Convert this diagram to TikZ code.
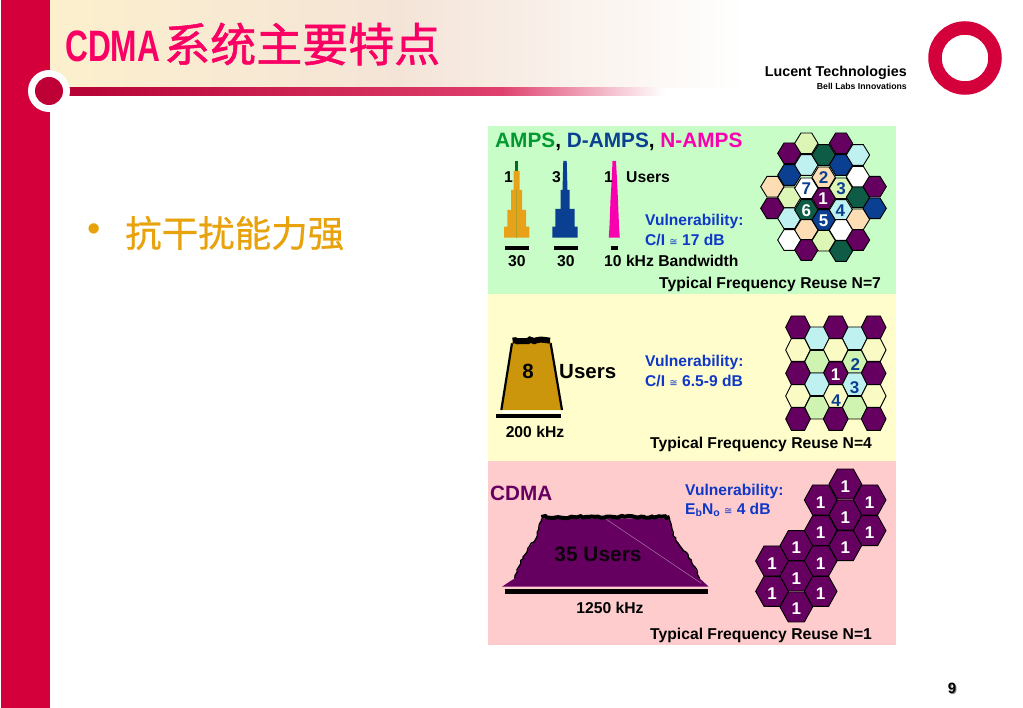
\documentclass[tikz,border=0pt]{standalone}
\usepackage{fontspec}
\setmainfont{Liberation Sans}
\newfontfamily\cjkbody[FakeBold=0.6]{Noto Sans CJK SC}
\newfontfamily\cjktitle[FakeBold=1.2]{Noto Sans CJK SC}
\newfontfamily\narrowsans[FakeStretch=0.72]{Liberation Sans}
\newfontfamily\symfont{DejaVu Sans}
\usetikzlibrary{decorations.pathmorphing}
\definecolor{slidered}{HTML}{D4003C}
\definecolor{titlepink}{HTML}{FA0064}
\definecolor{bulletgold}{HTML}{E8A20C}
\definecolor{pgreen}{HTML}{C8FDC8}
\definecolor{pyellow}{HTML}{FEFDCB}
\definecolor{ppink}{HTML}{FECCCC}
\definecolor{hpurple}{HTML}{660060}
\definecolor{hblue}{HTML}{0B3F92}
\definecolor{hgreen}{HTML}{0E5C46}
\definecolor{hcyan}{HTML}{BFF1F1}
\definecolor{hpeach}{HTML}{FCDDB4}
\definecolor{hlime}{HTML}{DDF6B6}
\definecolor{hcream}{HTML}{FAFBC4}
\definecolor{hlime2}{HTML}{CFF3B0}
\definecolor{vulblue}{HTML}{0F38C8}
\definecolor{gold}{HTML}{CB950C}
\definecolor{amber}{HTML}{E8A21A}
\definecolor{npink}{HTML}{F800B0}
\definecolor{agreen}{HTML}{009A30}
\definecolor{washa}{HTML}{FCF0CC}
\definecolor{washb}{HTML}{F4E4D8}
\tikzset{
  lbl/.style={font=\fontsize{15.7}{15.7}\selectfont\bfseries,inner sep=0pt,anchor=west},
  vul/.style={font=\fontsize{15.6}{15.6}\selectfont\bfseries,inner sep=0pt,anchor=west,text=vulblue},
  num/.style={font=\fontsize{17}{17}\selectfont\bfseries,inner sep=0pt},
  hexline/.style={draw=black,line width=0.9pt},
  bar/.style={fill=black,draw=none},
  zoomA/.style={shift={(488,125)},x=0.33333pt,y=-0.33333pt},
  zoomB/.style={shift={(488,295)},x=0.33333pt,y=-0.33333pt},
  zoomC/.style={shift={(488,460)},x=0.33333pt,y=-0.33333pt},
  jag/.style={decorate,decoration={random steps,segment length=3pt,amplitude=1.1pt}}
}
% centre x, centre y, fill, half width, half height, half flat
\newcommand{\hexat}[6]{\draw[hexline,fill=#3] ({#1-#4},#2) -- ({#1-#6},{#2-#5}) -- ({#1+#6},{#2-#5}) -- ({#1+#4},#2) -- ({#1+#6},{#2+#5}) -- ({#1-#6},{#2+#5}) -- cycle;}
\newcommand{\approxsym}{{\symfont\mdseries\fontsize{10}{10}\selectfont ≅}}
\begin{document}
\begin{tikzpicture}[x=1pt,y=-1pt]
\useasboundingbox (0,0) rectangle (1023,708);
\fill[white] (0,0) rectangle (1023,708);
% header wash
\shade[left color=washa,right color=washb] (50,0) rectangle (400,88);
\shade[left color=washb,right color=white] (400,0) rectangle (745,88);
% side band
\fill[slidered] (1,0) rectangle (50,708);
% rule and ball
\shade[left color=slidered!85!black,right color=slidered!75!white] (55,88) rectangle (500,96);
\shade[left color=slidered!75!white,right color=white] (500,88) rectangle (665,96);
\fill[white] (49,91) circle (21);
\fill[slidered!90!black] (49,91) circle (14);
% title
\node[anchor=west,inner sep=0pt,text=titlepink] (title) at (65,44) {\fontsize{44}{44}\selectfont\narrowsans\bfseries CDMA\hspace{4pt}\cjktitle\mdseries\fontsize{46}{46}\selectfont 系统主要特点};
% bullet
\node[inner sep=0pt,text=bulletgold] (bullet) at (94,233) {\fontsize{38}{38}\selectfont •};
\node[anchor=west,inner sep=0pt,text=bulletgold] (item) at (125,233) {\cjkbody\fontsize{36.5}{36.5}\selectfont 抗干扰能力强};
% logo
\draw[slidered,line width=13.5pt] (965,58) circle (30);
\node[anchor=east,inner sep=0pt] (lucent) at (907,73) {\fontsize{14.3}{14.3}\selectfont\bfseries Lucent Technologies};
\node[anchor=east,inner sep=0pt] (belllabs) at (907,86) {\fontsize{8.7}{8.7}\selectfont\bfseries Bell Labs Innovations};
% panels
\fill[pgreen] (488,126) rectangle (896,294);
\fill[pyellow] (488,294) rectangle (896,461);
\fill[ppink] (488,461) rectangle (896,645);
% ---------- panel A
\node[anchor=west,inner sep=0pt] (atitle) at (495,142) {\fontsize{20.8}{20.8}\selectfont\bfseries\textcolor{agreen}{AMPS}, \textcolor{hblue}{D-AMPS}, \textcolor{npink}{N-AMPS}};
\fill[agreen!70!black] (515.2,161) rectangle (518.2,172);
\fill[amber] (504,237.7) -- (504,226.7) -- (507.4,226.7) -- (507.4,210) -- (511.2,210) -- (511.2,190) -- (513.7,190) -- (513.7,171) -- (519.7,171) -- (519.7,190) -- (522.2,190) -- (522.2,210) -- (526,210) -- (526,226.7) -- (529.4,226.7) -- (529.4,237.7) -- cycle;
\fill[amber!75!agreen] (516,190) rectangle (517.4,237.7);
\fill[hblue] (552.3,237.7) -- (552.3,226.7) -- (555.3,226.7) -- (555.3,209) -- (560.5,209) -- (560.5,190) -- (562.5,190) -- (563.3,161) -- (566.7,161) -- (567.5,190) -- (569.5,190) -- (569.5,209) -- (574.7,209) -- (574.7,226.7) -- (577.7,226.7) -- (577.7,237.7) -- cycle;
\fill[npink] (608.8,237.7) -- (609.5,226) -- (610.5,200) -- (611.7,180) -- (612.5,161) -- (616,161) -- (617,180) -- (618,200) -- (619,226) -- (619.8,237.7) -- cycle;
\begin{scope}[zoomA]
\fill[bar] (50,362) rectangle (123,376);
\fill[bar] (197,362) rectangle (270,376);
\fill[bar] (368,362) rectangle (390,376);
\foreach \cx/\cy/\cc in {853/185/hpeach,853/250/hpurple,
 904/85/hpurple,904/150/hblue,904/217/hlime,904/280/hcyan,904/345/white,
 955/55/hlime,955/120/hcyan,955/190/white,955/255/hgreen,955/315/hpeach,955/375/hpurple,
 1007/90/hgreen,1007/157/hpeach,1007/220/hpurple,1007/285/hblue,1007/347/hlime,
 1059/55/hpurple,1059/120/hblue,1059/190/hlime,1059/255/hcyan,1059/315/white,1059/378/hgreen,
 1110/90/hcyan,1110/155/white,1110/217/hgreen,1110/283/hpeach,1110/345/hpurple,
 1160/185/hpurple,1160/250/hblue}{\hexat{\cx}{\cy}{\cc}{35}{31}{16}}
\node[num,text=white] (a1) at (1005,222) {1};
\node[num,text=hblue] (a2) at (1007,158) {2};
\node[num,text=hblue] (a3) at (1059,191) {3};
\node[num,text=hblue] (a4) at (1057,256) {4};
\node[num,text=white] (a5) at (1007,286) {5};
\node[num,text=white] (a6) at (955,256) {6};
\node[num,text=hblue] (a7) at (955,191) {7};
\end{scope}
\node[lbl] (au1) at (504,177) {1};
\node[lbl] (au2) at (552,177) {3};
\node[lbl] (au3) at (604,177) {1};
\node[lbl] (ausers) at (626,177) {Users};
\node[vul] (avul) at (645,221) {Vulnerability:};
\node[vul] (acoi) at (645,240) {C/I \approxsym{} 17 dB};
\node[lbl] (a30a) at (508,261) {30};
\node[lbl] (a30b) at (557,261) {30};
\node[lbl] (a10) at (604,261) {10 kHz Bandwidth};
\node[lbl] (areuse) at (659,284) {Typical Frequency Reuse N=7};
% ---------- panel B
\begin{scope}[zoomB]
\fill[gold] (40,345) -- (72,140) -- (188,140) -- (222,345) -- cycle;
\draw[black,line width=2.2pt] (40,345) -- (72,145);
\draw[black,line width=2.2pt] (222,345) -- (188,145);
\draw[black,line width=6pt,jag] (74,137) -- (186,137);
\fill[white] (42,347) rectangle (220,355);
\fill[bar] (25,356) rectangle (220,370);
\foreach \cx/\cy/\cc in {930/97/hpurple,1043/97/hpurple,1157/97/hpurple,
 987/130/hcyan,1100/130/hcyan,
 930/165/hcream,1043/165/hcream,1157/165/hcream,
 987/200/hlime2,1100/200/hlime2,
 930/235/hpurple,1043/235/hpurple,1157/235/hpurple,
 987/268/hcyan,1100/268/hcyan,
 930/303/hcream,1043/303/hcream,1157/303/hcream,
 987/338/hlime2,1100/338/hlime2,
 930/372/hpurple,1043/372/hpurple,1157/372/hpurple}{\hexat{\cx}{\cy}{\cc}{37}{34}{20}}
\node[num,text=white] (b1) at (1043,240) {1};
\node[num,text=hblue] (b2) at (1102,210) {2};
\node[num,text=hblue] (b3) at (1100,279) {3};
\node[num,text=hblue] (b4) at (1044,318) {4};
\end{scope}
\node[inner sep=0pt] (beight) at (528,371) {\fontsize{20.5}{20.5}\selectfont\bfseries 8};
\node[anchor=west,inner sep=0pt] (busers) at (559,371.5) {\fontsize{20.5}{20.5}\selectfont\bfseries Users};
\node[vul] (bvul) at (645,362) {Vulnerability:};
\node[vul] (bcoi) at (645,381) {C/I \approxsym{} 6.5-9 dB};
\node[lbl,anchor=center] (bkhz) at (535,432) {200 kHz};
\node[lbl] (breuse) at (650,444) {Typical Frequency Reuse N=4};
% ---------- panel C
\node[anchor=west,inner sep=0pt,text=hpurple] (ccdma) at (490,493) {\fontsize{20.7}{20.7}\selectfont\bfseries CDMA};
\begin{scope}[zoomC]
\fill[hpurple] (42,380) -- (80,355) -- (105,290) -- (148,228) -- (160,175) -- (545,175) -- (556,228) -- (610,300) -- (635,355) -- (662,380) -- cycle;
\draw[black,line width=1.3pt,jag] (80,355) -- (105,290) -- (148,228) -- (160,178);
\draw[black,line width=1.3pt,jag] (635,355) -- (610,300) -- (556,228) -- (545,178);
\draw[black,line width=4pt,jag] (160,171) -- (545,171);
\draw[hpurple!55!white,line width=0.5pt] (355,178) -- (640,370);
\fill[bar] (50,388) rectangle (660,403);
\foreach \cx/\cy in {1072/72,998/120,1145/120,1072/165,998/212,1145/212,925/257,1072/257,852/303,998/303,925/348,852/394,998/394,925/441}{\hexat{\cx}{\cy}{hpurple}{49}{45}{24}}
\foreach \cx/\cy/\nn in {1072/80/1,998/127/2,1145/127/3,1072/172/4,998/218/5,1145/218/6,925/263/7,1072/263/8,852/310/9,998/310/10,925/355/11,852/400/12,998/400/13,925/447/14}{\node[num,text=white] (c\nn) at (\cx,\cy) {1};}
\end{scope}
\node[vul] (cvul) at (685,491) {Vulnerability:};
\node[vul] (ceb) at (685,510) {E\raisebox{-2.5pt}{\fontsize{10.5}{10.5}\selectfont b}N\raisebox{-2.5pt}{\fontsize{10.5}{10.5}\selectfont o} \approxsym{} 4 dB};
\node[inner sep=0pt,text=black!85!hpurple] (cusers) at (598,554) {\fontsize{20.9}{20.9}\selectfont\bfseries 35 Users};
\node[lbl,anchor=center] (ckhz) at (610,608) {1250 kHz};
\node[lbl] (creuse) at (650,635) {Typical Frequency Reuse N=1};
% page number
\node[inner sep=0pt,text=black!45] (pgs) at (953,689) {\fontsize{15}{15}\selectfont\bfseries 9};
\node[inner sep=0pt] (pg) at (952,688) {\fontsize{15}{15}\selectfont\bfseries 9};
\end{tikzpicture}
\end{document}
